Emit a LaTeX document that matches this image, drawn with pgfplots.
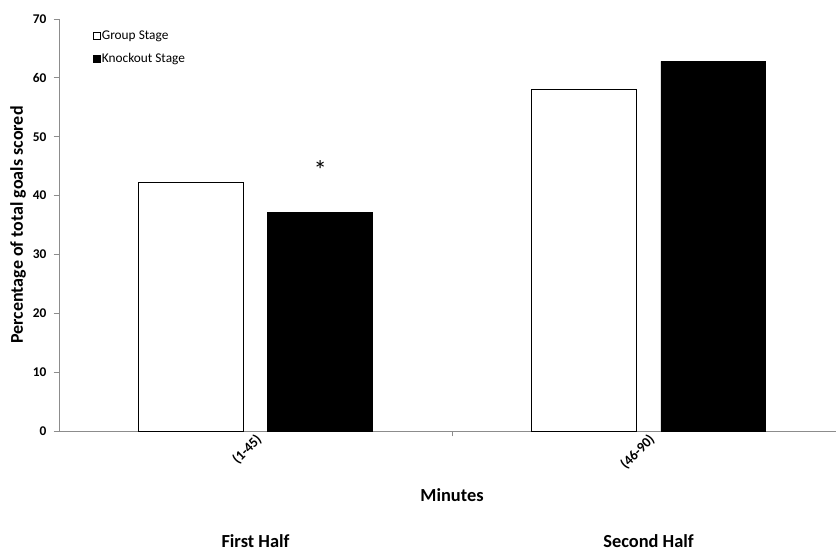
\documentclass[border=0pt]{standalone}
\usepackage{pgfplots}
\pgfplotsset{compat=1.18}
\usepackage{fontspec}
\setmainfont{Carlito}
\definecolor{axisgray}{HTML}{8C8C8C}
\begin{document}
\begin{tikzpicture}
\begin{axis}[
  x=294.75pt, y=4.4145pt,
  scale only axis,
  xmin=-0.5, xmax=1.477, ymin=0, ymax=70,
  axis lines*=left,
  axis line style={draw=axisgray, line width=0.6pt},
  tick style={draw=axisgray, line width=0.6pt},
  tick align=outside,
  major tick length=4pt,
  clip=false,
  /pgf/number format/assume math mode=true,
  ytick={0,10,...,70},
  yticklabel style={font=\bfseries\fontsize{10}{10}\selectfont, xshift=-2pt},
  xtick={0.5}, xticklabels={},
  extra x ticks={0,1},
  extra x tick labels={(1-45),(46-90)},
  extra x tick style={major tick length=0pt,
     xticklabel style={rotate=45, anchor=east, font=\bfseries\fontsize{10.5}{11}\selectfont, xshift=2pt, yshift=-5.5pt}},
  legend style={at={(axis cs:-0.415,68.3)}, anchor=north west, draw=none, fill=none,
     font=\fontsize{10}{12}\selectfont, row sep=7pt, inner sep=0pt,
     nodes={inner sep=1pt}},
  legend cell align=left,
  legend image code/.code={\draw[#1, line width=0.5pt] (0pt,-2.7pt) rectangle (5.4pt,2.7pt);},
]
\addplot[ybar, bar width=0.267, bar shift=-0.165, draw=black, fill=white, line width=0.6pt]
  coordinates {(0,42.2) (1,58.0)};
\addlegendentry{Group Stage}
\addplot[ybar, bar width=0.267, bar shift=0.165, draw=black, fill=black, line width=0.6pt]
  coordinates {(0,37.2) (1,62.8)};
\addlegendentry{Knockout Stage}
\node[font=\fontsize{20}{20}\selectfont] at (axis cs:0.165,44.4) {*};
\node[rotate=90, font=\bfseries\fontsize{13.5}{14}\selectfont] at (axis cs:-0.604,35) {Percentage of total goals scored};
\node[font=\bfseries\fontsize{13.8}{14}\selectfont] at (axis cs:0.5,-10.9) {Minutes};
\node[font=\bfseries\fontsize{13.8}{14}\selectfont] at (axis cs:0,-18.7) {First Half};
\node[font=\bfseries\fontsize{13.8}{14}\selectfont] at (axis cs:1,-18.7) {Second Half};
\coordinate (bl) at (axis cs:-0.6501,-20.557);
\coordinate (tr) at (axis cs:1.477,73.228);
\end{axis}
\pgfresetboundingbox
\path (bl) rectangle (tr);
\end{tikzpicture}
\end{document}
